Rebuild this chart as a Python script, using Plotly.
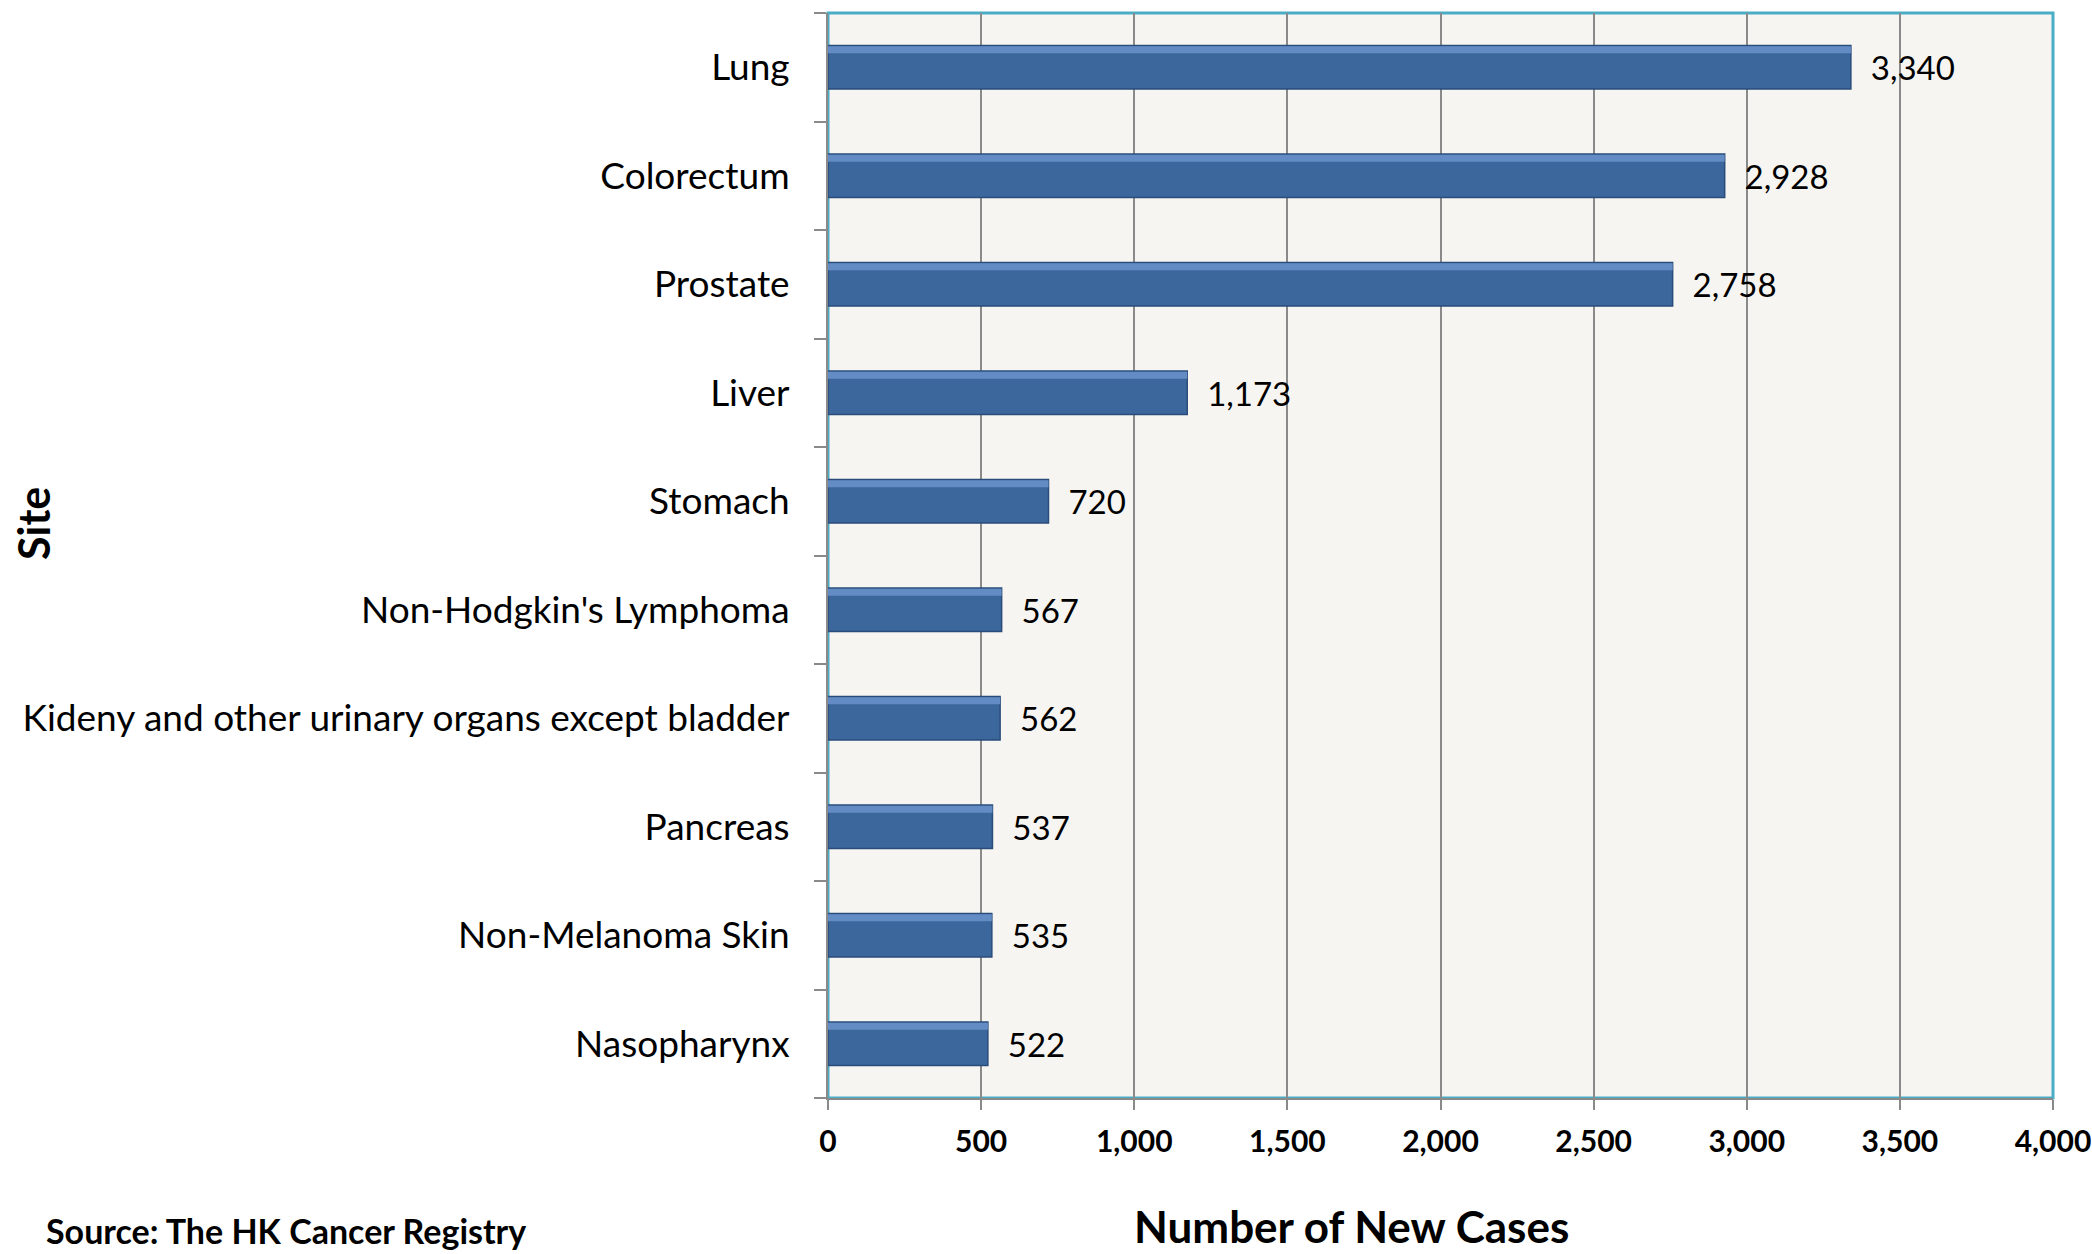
import plotly.graph_objects as go

sites = ["Lung", "Colorectum", "Prostate", "Liver", "Stomach",
         "Non-Hodgkin's Lymphoma", "Kideny and other urinary organs except bladder",
         "Pancreas", "Non-Melanoma Skin", "Nasopharynx"]
cases = [3340, 2928, 2758, 1173, 720, 567, 562, 537, 535, 522]
x_ticks = [0, 500, 1000, 1500, 2000, 2500, 3000, 3500, 4000]
x_tick_labels = ["0", "500", "1,000", "1,500", "2,000", "2,500", "3,000", "3,500", "4,000"]

FONT = "Lato"
L, R, T, B = 828, 2053, 13, 1098
W, H = 2092, 1254

fig = go.Figure()
# main bars
fig.add_trace(go.Bar(
    y=sites[::-1], x=cases[::-1], orientation="h",
    width=0.4, offset=-0.2,
    marker=dict(color="#3b679d", line=dict(color="#2a4c7a", width=1.5)),
    text=[f"\u00a0\u00a0{v:,}" for v in cases[::-1]], textposition="outside",
    textfont=dict(family=FONT, size=33, color="black"),
    cliponaxis=False, hoverinfo="x+y",
))
# bevel highlight on the top edge of each bar
fig.add_trace(go.Bar(
    y=sites[::-1], x=cases[::-1], orientation="h",
    width=0.065, offset=0.128,
    marker=dict(color="#628cc3", line=dict(width=0)),
    hoverinfo="skip",
))

fig.update_layout(
    width=W, height=H,
    margin=dict(l=L, r=W - R, t=T, b=H - B, autoexpand=False),
    paper_bgcolor="white", plot_bgcolor="#f7f5f1",
    barmode="overlay", showlegend=False,
    font=dict(family=FONT, color="black"),
    shapes=[dict(type="rect", xref="paper", yref="paper", x0=0, x1=1, y0=0, y1=1,
                 line=dict(color="#4bacc6", width=3), layer="below")],
    annotations=[
        dict(text="<b>Number of New Cases</b>", xref="paper", yref="paper",
             x=(1351 - L) / (R - L), y=-(1226 - B) / (B - T), xanchor="center", yanchor="middle",
             showarrow=False, font=dict(family=FONT, size=44, color="black")),
        dict(text="<b>Source: The HK Cancer Registry</b>", xref="paper", yref="paper",
             x=(44 - L) / (R - L), y=-(1230 - B) / (B - T), xanchor="left", yanchor="middle",
             showarrow=False, font=dict(family=FONT, size=34, color="black")),
        dict(text="<b>Site</b>", xref="paper", yref="paper",
             x=(33 - L) / (R - L), y=(B - 524) / (B - T), xanchor="center", yanchor="middle",
             textangle=-90, showarrow=False, font=dict(family=FONT, size=43, color="black")),
    ],
)

fig.update_xaxes(
    range=[0, 4000], tickvals=x_ticks, ticktext=x_tick_labels,
    showgrid=True, gridcolor="#8a8a8a", gridwidth=1.5,
    showline=True, linecolor="#8a8a8a", linewidth=2,
    ticks="outside", ticklen=10, tickcolor="#8a8a8a", tickwidth=2,
    tickfont=dict(family=FONT, size=30, color="black", weight="bold"),
    ticklabelstandoff=6, zeroline=False, ticklabeloverflow="allow",
    automargin=False,
)
fig.update_yaxes(
    categoryorder="array", categoryarray=sites[::-1],
    showline=True, linecolor="#8a8a8a", linewidth=2,
    ticks="outside", ticklen=12, tickcolor="#8a8a8a", tickwidth=2,
    tickson="boundaries", showgrid=False,
    tickfont=dict(family=FONT, size=37, color="black"),
    ticklabelstandoff=29, automargin=False,
)

fig.write_html("out.html", config={"displayModeBar": False},
               post_script="document.body.style.margin='0';document.body.style.padding='0';")
